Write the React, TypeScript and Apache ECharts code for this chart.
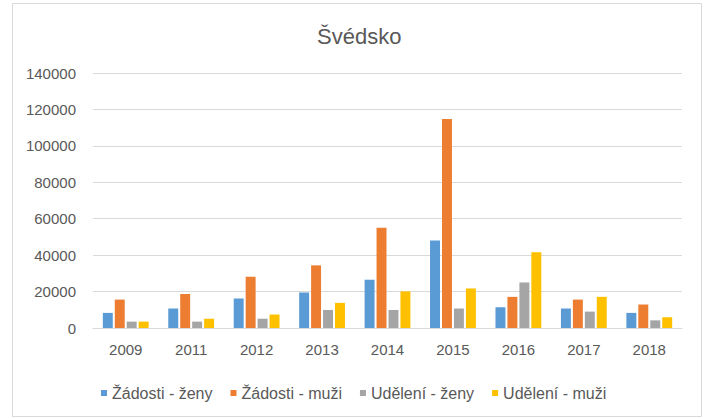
import React, { useEffect, useRef } from "react";
import * as echarts from "echarts";

const categories = ["2009", "2011", "2012", "2013", "2014", "2015", "2016", "2017", "2018"];
const zadostiZeny = [8300, 10700, 16200, 19500, 26500, 48100, 11400, 10700, 8300];
const zadostiMuzi = [15600, 18600, 28200, 34400, 55100, 114700, 17100, 15600, 12900];
const udeleniZeny = [3500, 3500, 5100, 9900, 9900, 10700, 25000, 9000, 4200];
const udeleniMuzi = [3500, 5100, 7400, 13800, 20100, 21700, 41600, 17100, 5900];
const seriesNames = ["Žádosti - ženy", "Žádosti - muži", "Udělení - ženy", "Udělení - muži"];
const colors = ["#5B9BD5", "#ED7D31", "#A5A5A5", "#FFC000"];

const FONT = "Liberation Sans";
const TEXT = "#595959";

export default function App() {
  const ref = useRef<HTMLDivElement>(null);
  useEffect(() => {
    if (!ref.current) return;
    const chart = echarts.init(ref.current, null, { renderer: "svg" });
    const data = [zadostiZeny, zadostiMuzi, udeleniZeny, udeleniMuzi];
    chart.setOption({
      animation: false,
      backgroundColor: "#ffffff",
      color: colors,
      title: {
        text: "Švédsko",
        left: 312,
        top: 20,
        textStyle: { fontFamily: FONT, fontSize: 22, fontWeight: "normal", color: TEXT },
      },
      graphic: [
        {
          type: "rect",
          shape: { x: 12.5, y: 3.5, width: 689, height: 413 },
          style: { fill: "none", stroke: "#D9D9D9", lineWidth: 1 },
          silent: true,
        },
      ],
      grid: { left: 93, right: 24, top: 73, bottom: 90, containLabel: false },
      legend: {
        left: 96,
        top: 380,
        itemWidth: 6,
        itemHeight: 6,
        itemGap: 18,
        icon: "rect",
        textStyle: { fontFamily: FONT, fontSize: 16, color: TEXT },
        data: seriesNames,
      },
      xAxis: {
        type: "category",
        data: categories,
        axisLine: { lineStyle: { color: "#D9D9D9", width: 1 } },
        axisTick: { show: false },
        axisLabel: { fontFamily: FONT, fontSize: 15, color: TEXT, margin: 14 },
      },
      yAxis: {
        type: "value",
        min: 0,
        max: 140000,
        interval: 20000,
        axisLine: { show: false },
        axisTick: { show: false },
        splitLine: { lineStyle: { color: "#D9D9D9", width: 1 } },
        axisLabel: {
          fontFamily: FONT,
          fontSize: 15,
          color: TEXT,
          margin: 17,
          formatter: (v: number) => String(v),
        },
      },
      series: seriesNames.map((name, i) => ({
        name,
        type: "bar",
        data: data[i],
        barGap: "20%",
        barCategoryGap: "30%",
        itemStyle: { color: colors[i] },
      })),
    });
    return () => chart.dispose();
  }, []);
  return (
    <div
      ref={ref}
      style={{ position: "absolute", left: 0, top: 0, width: 706, height: 418 }}
    />
  );
}
